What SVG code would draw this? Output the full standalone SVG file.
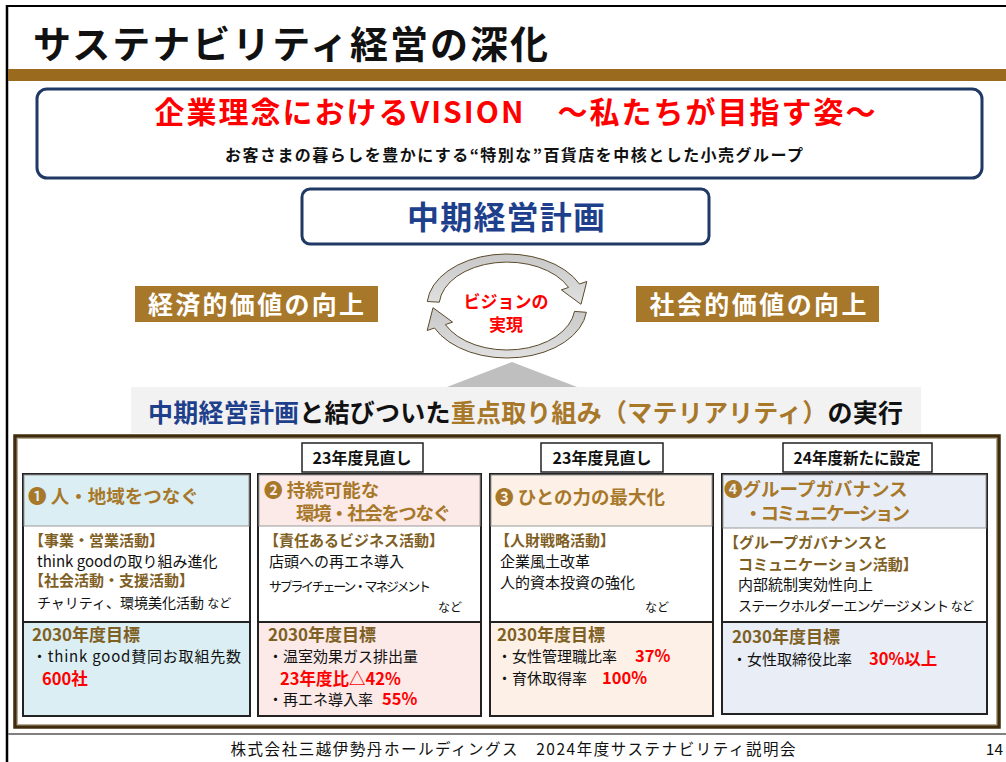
<svg xmlns="http://www.w3.org/2000/svg" width="1006" height="762" viewBox="0 0 1006 762">
<defs>
<style>
text{font-family:"Noto Sans CJK JP","Noto Sans",sans-serif;}
.b{font-weight:700;}
.gold{fill:#A8782A;}
.brown{fill:#7F6024;}
.red{fill:#FF0000;}
.navy{fill:#1E3F8C;}
.col{stroke:#222;stroke-width:2;}
.tag{fill:#fff;stroke:#222;stroke-width:1.5;}
.arr{fill:url(#ag);stroke:#5A4A2A;stroke-width:1;}
</style>
<linearGradient id="ag" x1="0" y1="0" x2="0" y2="1">
<stop offset="0" stop-color="#C8C8C8"/>
<stop offset="1" stop-color="#E0E0E0"/>
</linearGradient>
</defs>
<rect width="1006" height="762" fill="#fff"/>
<line x1="6" y1="6" x2="1006" y2="6" stroke="#000" stroke-width="2"/>
<line x1="7" y1="5" x2="7" y2="762" stroke="#000" stroke-width="2.5"/>
<g id="title">
<text x="33" y="58" class="b" font-size="38" textLength="515" fill="#111">サステナビリティ経営の深化</text>
<rect x="8" y="69" width="998" height="12" fill="#9A6B1F"/>
</g>
<g id="vision">
<rect x="37" y="89" width="945" height="89" rx="10" fill="#fff" stroke="#1F3864" stroke-width="3"/>
<text x="515" y="123" text-anchor="middle" class="b red" font-size="30" textLength="721">企業理念におけるVISION　～私たちが目指す姿～</text>
<text x="514" y="161" text-anchor="middle" class="b" font-size="16" textLength="578" fill="#111">お客さまの暮らしを豊かにする“特別な”百貨店を中核とした小売グループ</text>
</g>
<g id="midplan">
<rect x="302" y="189" width="407" height="55" rx="8" fill="#fff" stroke="#1F3864" stroke-width="3"/>
<text x="506" y="229" text-anchor="middle" class="b navy" font-size="32" textLength="198">中期経営計画</text>
</g>
<g id="econ">
<rect x="135" y="286" width="243" height="36" fill="#A8782A"/>
<text x="256" y="314" text-anchor="middle" class="b" font-size="25" fill="#fff" textLength="216">経済的価値の向上</text>
</g>
<g id="social">
<rect x="636" y="286" width="243" height="36" fill="#A8782A"/>
<text x="758" y="314" text-anchor="middle" class="b" font-size="25" fill="#fff" textLength="217">社会的価値の向上</text>
</g>
<g id="cycle">
<path class="arr" d="M427.3,301.5 A80,52 0 0 1 579.5,284 L586.8,281.5 L581,304.3 L561.4,289.9 L568.6,287.4 A68,44 0 0 0 439.3,302.2 Z"/>
<path class="arr" d="M586.4,312.3 A80,52 0 0 1 434.5,328 L427.2,330.5 L433,307.7 L452.6,322.1 L445.4,324.6 A68,44 0 0 0 574.5,311.4 Z"/>
<text x="506" y="308" text-anchor="middle" class="b red" font-size="17">ビジョンの</text>
<text x="506" y="331" text-anchor="middle" class="b red" font-size="17">実現</text>
</g>
<polygon points="512,362 447,387 577,387" fill="#BFBFBF"/>
<g id="materiality">
<rect x="131" y="387" width="790" height="46" fill="#F2F2F2"/>
<text x="148" y="422" class="b" font-size="25" textLength="755"><tspan class="navy">中期経営計画</tspan><tspan fill="#111">と結びついた</tspan><tspan class="gold">重点取り組み（マテリアリティ）</tspan><tspan fill="#111">の実行</tspan></text>
</g>
<g id="frame">
<rect x="15" y="436" width="984" height="291" fill="none" stroke="#3F2C0C" stroke-width="3.5"/>
<rect x="17.5" y="438.5" width="979" height="286" fill="none" stroke="#B8AA90" stroke-width="1"/>
</g>
<g id="col1">
<rect x="23" y="474" width="227" height="242" fill="#fff" class="col"/>
<rect x="24" y="475" width="225" height="51" fill="#DAEEF3" stroke="#999" stroke-width="1"/>
<text x="28" y="503" class="b gold" font-size="18.5">❶ 人・地域をつなぐ</text>
<text x="29" y="546" class="b brown" font-size="15">【事業・営業活動】</text>
<text x="37" y="567" font-size="15" fill="#111">think goodの取り組み進化</text>
<text x="29" y="586" class="b brown" font-size="15">【社会活動・支援活動】</text>
<text x="37" y="608" font-size="14" fill="#111">チャリティ、環境美化活動 <tspan font-size="12">など</tspan></text>
<rect x="23" y="622" width="227" height="94" fill="#DAEEF3" class="col"/>
<text x="32" y="641" class="b brown" font-size="17">2030年度目標</text>
<text x="32" y="662" font-size="15" fill="#111" textLength="209">・think good賛同お取組先数</text>
<text x="42" y="685" class="b red" font-size="16.5">600社</text>
</g>
<g id="col2">
<rect x="302" y="443" width="121" height="29" class="tag"/>
<text x="362" y="463.5" text-anchor="middle" class="b" font-size="16" fill="#111">23年度見直し</text>
<rect x="258" y="474" width="223" height="242" fill="#fff" class="col"/>
<rect x="259" y="475" width="221" height="51" fill="#FBEAE8" stroke="#999" stroke-width="1"/>
<text x="264" y="497" class="b gold" font-size="18.5">❷ 持続可能な</text>
<text x="296" y="520" class="b gold" font-size="18.5" textLength="155">環境・社会をつなぐ</text>
<text x="264" y="546" class="b brown" font-size="15">【責任あるビジネス活動】</text>
<text x="269" y="567" font-size="15" fill="#111">店頭への再エネ導入</text>
<text x="269" y="591" font-size="13" fill="#111" textLength="162">サプライチェーン・マネジメント</text>
<text x="438" y="612" font-size="12" fill="#111">など</text>
<rect x="258" y="622" width="223" height="94" fill="#FBEAE8" class="col"/>
<text x="268" y="641" class="b brown" font-size="17">2030年度目標</text>
<text x="268" y="662" font-size="15" fill="#111">・温室効果ガス排出量</text>
<text x="280" y="685" class="b red" font-size="16.5">23年度比△42%</text>
<text x="268" y="705" font-size="15" fill="#111">・再エネ導入率</text>
<text x="382" y="705" class="b red" font-size="16.5">55%</text>
</g>
<g id="col3">
<rect x="541" y="443" width="122" height="29" class="tag"/>
<text x="602" y="463.5" text-anchor="middle" class="b" font-size="16" fill="#111">23年度見直し</text>
<rect x="490" y="474" width="223" height="242" fill="#fff" class="col"/>
<rect x="491" y="475" width="221" height="51" fill="#FDF1E7" stroke="#999" stroke-width="1"/>
<text x="495" y="504" class="b gold" font-size="18.5">❸ ひとの力の最大化</text>
<text x="495" y="546" class="b brown" font-size="15">【人財戦略活動】</text>
<text x="500" y="567" font-size="15" fill="#111">企業風土改革</text>
<text x="500" y="588" font-size="15" fill="#111">人的資本投資の強化</text>
<text x="645" y="612" font-size="12" fill="#111">など</text>
<rect x="490" y="622" width="223" height="94" fill="#FDF1E7" class="col"/>
<text x="497" y="641" class="b brown" font-size="17">2030年度目標</text>
<text x="497" y="662" font-size="15" fill="#111">・女性管理職比率</text>
<text x="635" y="662" class="b red" font-size="16.5">37%</text>
<text x="497" y="684" font-size="15" fill="#111">・育休取得率</text>
<text x="602" y="684" class="b red" font-size="16.5">100%</text>
</g>
<g id="col4">
<rect x="783" y="443" width="149" height="29" class="tag"/>
<text x="857" y="463.5" text-anchor="middle" class="b" font-size="15.5" fill="#111">24年度新たに設定</text>
<rect x="722" y="474" width="265" height="240" fill="#fff" class="col"/>
<rect x="723" y="475" width="263" height="53" fill="#E9EEF6" stroke="#999" stroke-width="1"/>
<text x="724" y="496" class="b gold" font-size="18.5">❹グループガバナンス</text>
<text x="744" y="520" class="b gold" font-size="18.5" textLength="166">・コミュニケーション</text>
<text x="724" y="548" class="b brown" font-size="15">【グループガバナンスと</text>
<text x="738" y="570" class="b brown" font-size="15">コミュニケーション活動】</text>
<text x="738" y="590" font-size="15" fill="#111">内部統制実効性向上</text>
<text x="738" y="611" font-size="14" fill="#111" textLength="236">ステークホルダーエンゲージメント <tspan font-size="12">など</tspan></text>
<rect x="722" y="622" width="265" height="92" fill="#E9EEF6" class="col"/>
<text x="732" y="643" class="b brown" font-size="17">2030年度目標</text>
<text x="732" y="665" font-size="15" fill="#111">・女性取締役比率</text>
<text x="869" y="665" class="b red" font-size="16.5">30%以上</text>
</g>
<g id="footer">
<line x1="8" y1="734" x2="1006" y2="734" stroke="#808080" stroke-width="2"/>
<text x="513" y="755" text-anchor="middle" font-size="15.5" textLength="565" fill="#111">株式会社三越伊勢丹ホールディングス　2024年度サステナビリティ説明会</text>
<text x="1003" y="755" text-anchor="end" font-size="15.5" fill="#111">14</text>
</g>
</svg>
